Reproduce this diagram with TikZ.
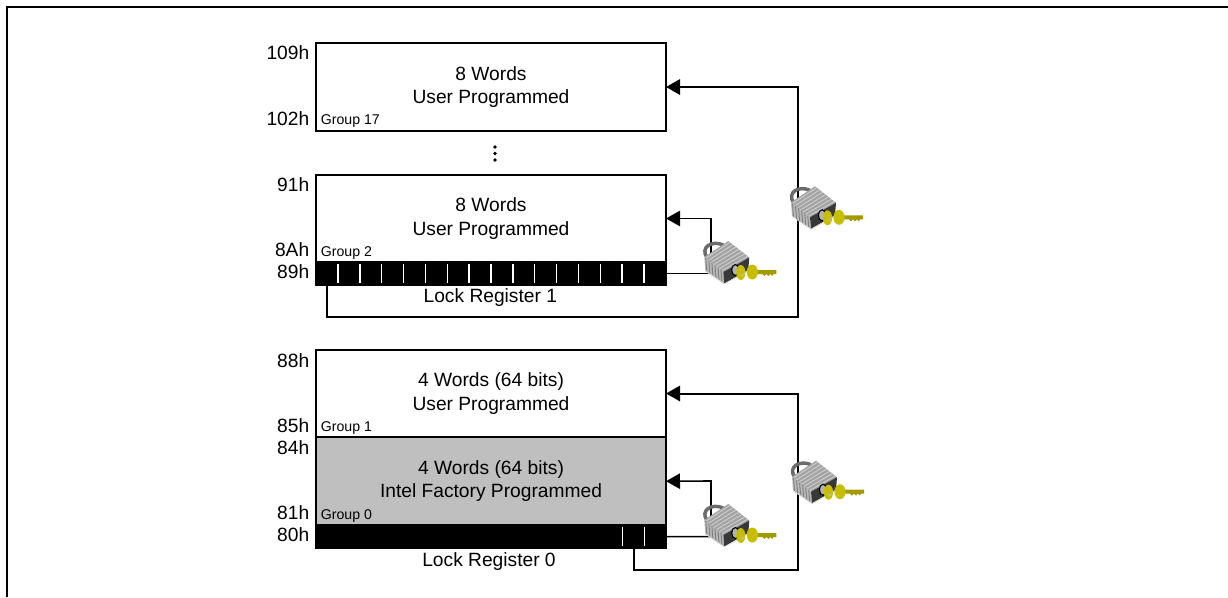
\documentclass[tikz,border=0pt]{standalone}
\usepackage{fontspec}
\setmainfont{Liberation Sans}
\usetikzlibrary{positioning,arrows.meta}
\definecolor{keyyellow}{HTML}{C8BE00}
\definecolor{keyshaft}{HTML}{A39A00}
\tikzset{
  wordblock/.style={draw=black, line width=1.5pt, outer sep=0pt, inner sep=0pt, minimum width=262.5pt, minimum height=65.6pt, align=center, font=\fontsize{14.4}{17.5}\selectfont},
  lockbar/.style={draw=black, fill=black, line width=1pt, outer sep=0pt, inner sep=0pt, minimum width=262.5pt, minimum height=17pt},
  bartick/.style={draw=white, line width=1.1pt},
  addrlabel/.style={anchor=base east, inner sep=0pt, font=\fontsize{14.4}{17}\selectfont},
  grouplabel/.style={inner sep=0pt, font=\fontsize{10.6}{12}\selectfont},
  reglabel/.style={inner sep=0pt, font=\fontsize{14.4}{17}\selectfont},
  shortlink/.style={draw=black, line width=1.2pt, -{Triangle[length=10.5pt,width=11.5pt]}},
  longlink/.style={draw=black, line width=1.5pt, -{Triangle[length=10.5pt,width=11.5pt]}},
  padlock/.pic={
    % shackle
    \draw[draw=black!58, line width=2.6pt] (-21,17) .. controls (-29,6) and (-16,-1) .. (-5,4);
    % top, side and front faces
    \fill[black!36] (0,0) -- (-24,16) -- (-5,31) -- (21,16.5) -- cycle;
    \foreach \t in {0.08,0.22,...,0.95} {
      \draw[black!20, line width=0.7pt] ({-24+19*\t},{16+15*\t}) -- ({21*\t},{16.5*\t});
    }
    \fill[black!28] (-24,16) -- (-5,31) -- (-4,42.5) -- (-23,29.5) -- cycle;
    \foreach \t in {0.08,0.24,...,0.95} {
      \draw[black!50, line width=0.7pt] ({-24+19*\t},{16+15*\t}) -- ({-23+19*\t},{29.5+13*\t});
    }
    \fill[black!78] (-5,31) -- (21,16.5) -- (20,29) -- (-4,42.5) -- cycle;
    \draw[black!15, line width=0.6pt] (-23,30) -- (-4,43) -- (20,29.5);
    % keyhole
    \draw[black, line width=0.8pt, fill=black!30] (7,29) ellipse (3.6 and 5.5);
    % key
    \fill[keyshaft] (24,29) -- (48,29) -- (48,33) -- (45,33) -- (44,35) -- (42,33) -- (40,35) -- (38,33) -- (36,35) -- (34,33) -- (24,33) -- cycle;
    \fill[keyyellow] (12.5,31.5) ellipse (4.6 and 7.5);
    \fill[keyyellow] (24,31) ellipse (5.6 and 7.5);
    \draw[black!25, line width=0.5pt] (12,33) -- (14,35) -- (17,31);
  }
}
\begin{document}
\begin{tikzpicture}[x=0.75pt, y=-0.75pt]
\useasboundingbox (0,0) rectangle (1228,597);
\draw[line width=1.5pt] (7,597) -- (7,7) -- (1228,7);

% memory blocks
\node (wordsA) [wordblock, minimum height=66pt] at (491,87) {8 Words\\User Programmed};
\node (wordsB) [wordblock] at (491,218.5) {8 Words\\User Programmed};
\node (barB) [lockbar, below=0pt of wordsB] {};
\node (wordsC) [wordblock] at (491,393.5) {4 Words (64 bits)\\User Programmed};
\node (wordsD) [wordblock, fill=black!25, minimum height=66pt, below=0pt of wordsC] {4 Words (64 bits)\\Intel Factory Programmed};
\node (barD) [lockbar, below=0pt of wordsD] {};
\draw[wordblock] (wordsC.south west) -- (wordsC.south east);

% gap between the groups
\foreach \y in {147,153.5,160} {
  \fill[black] (495,\y) circle (1.9);
}

% group names
\node (groupA) [grouplabel, above right=2.2pt and 3.5pt of wordsA.south west] {Group 17};
\node (groupB) [grouplabel, above right=2.2pt and 3.5pt of wordsB.south west] {Group 2};
\node (groupC) [grouplabel, above right=2.2pt and 3.5pt of wordsC.south west] {Group 1};
\node (groupD) [grouplabel, above right=2.2pt and 3.5pt of wordsD.south west] {Group 0};

% lock registers
\node (regB) [reglabel, below=2.4pt of barB, xshift=-0.5pt] {Lock Register 1};
\node (regD) [reglabel, below=3pt of barD, xshift=-1.5pt] {Lock Register 0};
\foreach \i in {0,...,14} {
  \draw[bartick] ({338+\i*21.86},263.5) -- ({338+\i*21.86},283);
}
\foreach \x in {622.7,644.6} {
  \draw[bartick] (\x,526.5) -- (\x,546);
}

% addresses
\node (addrA) [addrlabel] at (309.5,59.3) {109h};
\node (addrB) [addrlabel] at (309.5,125) {102h};
\node (addrC) [addrlabel] at (309.5,191.7) {91h};
\node (addrD) [addrlabel] at (309.5,256.7) {8Ah};
\node (addrE) [addrlabel] at (309.5,278.3) {89h};
\node (addrF) [addrlabel] at (309.5,367.3) {88h};
\node (addrG) [addrlabel] at (309.5,432.3) {85h};
\node (addrH) [addrlabel] at (309.5,454.3) {84h};
\node (addrI) [addrlabel] at (309.5,519.3) {81h};
\node (addrJ) [addrlabel] at (309.5,541.7) {80h};

% links from the registers
\coordinate (bendB) at (711,218.5);
\coordinate (tapA) at (327,285);
\coordinate (turnA) at (798,317);
\coordinate (bendD) at (711,481);
\coordinate (tapC) at (633.5,548);
\coordinate (turnC) at (798,569.5);
\draw[shortlink] (barB.east) -| (bendB) -- (wordsB.east);
\draw[longlink] (tapA) |- (turnA) |- (wordsA.east);
\draw[shortlink] (barD.east) -| (bendD) -- (wordsD.east);
\draw[longlink] (tapC) |- (turnC) |- (wordsC.east);

% locks
\pic (lockB) at (728.3,241) {padlock};
\pic (lockA) at (815,186.3) {padlock};
\pic (lockD) at (728.3,504) {padlock};
\pic (lockC) at (816,460.7) {padlock};
\end{tikzpicture}
\end{document}
